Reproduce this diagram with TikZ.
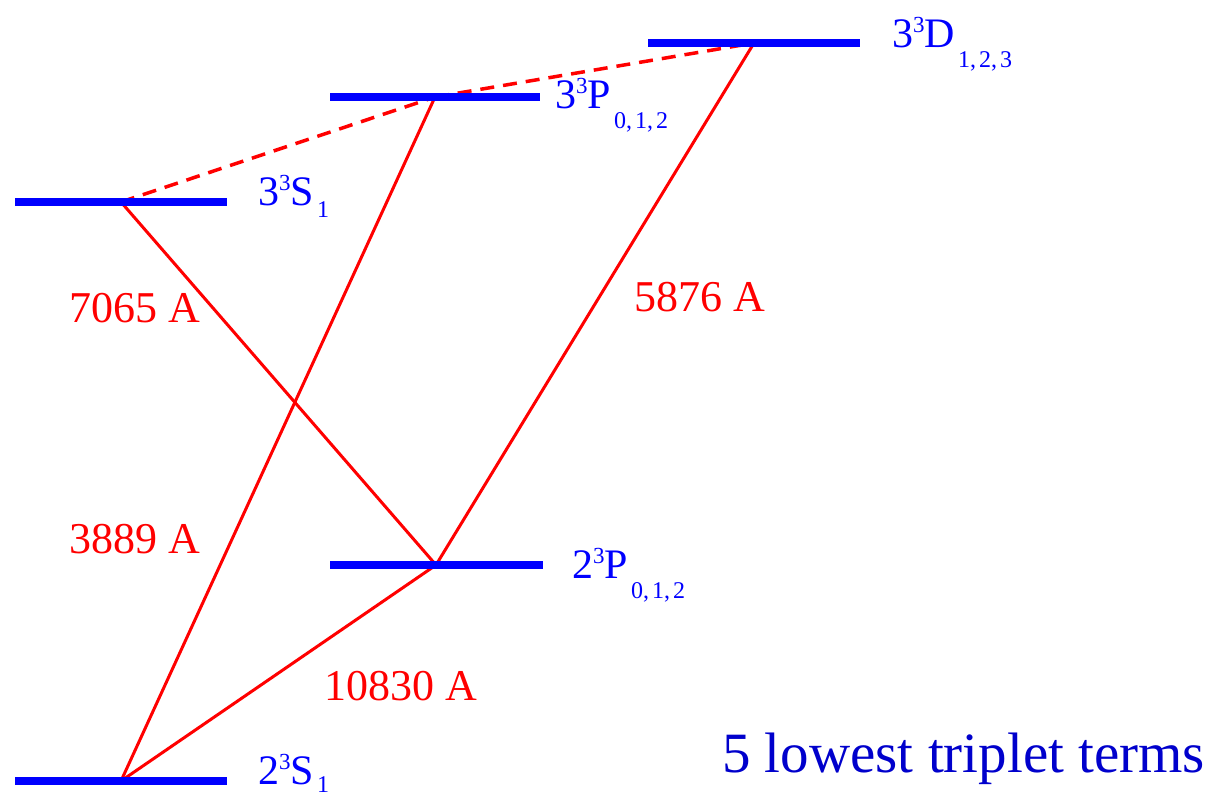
\documentclass[tikz,border=0pt]{standalone}
\usepackage{fontspec}
\setmainfont{Liberation Serif}
\usetikzlibrary{backgrounds}
\definecolor{lvlblue}{RGB}{0,0,255}
\definecolor{titleblue}{RGB}{0,0,204}
\definecolor{linered}{RGB}{255,0,0}
% #1 main, #2 sup, #3 letter, #4 sub, #5 lowering
\newcommand{\lvlab}[5]{\fontsize{42}{42}\selectfont #1\raisebox{15pt}{\fontsize{23}{23}\selectfont #2}#3\hspace{3pt}\raisebox{-#5}{\fontsize{24}{24}\selectfont #4}}
\begin{document}
\begin{tikzpicture}[x=1pt,y=-1pt,
  levelbar/.style={rectangle, draw=none, fill=lvlblue, minimum height=8pt, inner sep=0pt, minimum width=212pt},
  trans/.style={draw=linered, line width=3pt},
  forbid/.style={draw=linered, line width=3.5pt, dash pattern=on 14pt off 9pt},
  lab/.style={text=lvlblue, anchor=base west, inner sep=0pt},
  wl/.style={text=linered, font=\fontsize{44}{44}\selectfont, inner sep=0pt},
  ttl/.style={text=titleblue, font=\fontsize{57}{57}\selectfont, anchor=base west, inner sep=0pt}]
\useasboundingbox (0,0) rectangle (1221,795);

% levels
\node[levelbar] (S2) at (121,781) {};
\node[levelbar] (S3) at (121,202) {};
\node[levelbar, minimum width=213pt] (P2) at (436,565) {};
\node[levelbar, minimum width=210pt] (P3) at (435,97) {};
\node[levelbar] (D3) at (754,43) {};

% transitions
\begin{scope}[on background layer]
\draw[trans] (S2.center) -- (P2.center);
\draw[trans] (S2.center) -- (P3.center);
\draw[trans] (S3.center) -- (P2.center);
\draw[trans] (P2.center) -- (D3.center);
\draw[forbid] (S3.center) -- (P3.center);
\draw[forbid] (P3.center) -- (D3.center);
\end{scope}

% level labels
\node[lab] (lS3) at (258,205) {\lvlab{3}{3}{S}{1}{12pt}};
\node[lab] (lP3) at (555,108) {\lvlab{3}{3}{P}{0,\hspace{3pt}1,\hspace{3pt}2}{20pt}};
\node[lab] (lD3) at (892,47) {\lvlab{3}{3}{D}{1,\hspace{3pt}2,\hspace{3pt}3}{20pt}};
\node[lab] (lP2) at (572,578) {\lvlab{2}{3}{P}{0,\hspace{3pt}1,\hspace{3pt}2}{20pt}};
\node[lab] (lS2) at (258,784) {\lvlab{2}{3}{S}{1}{8pt}};

% wavelength labels
\node[wl] (w1) at (135,308) {7065 A};
\node[wl] (w2) at (135,539) {3889 A};
\node[wl] (w3) at (700,297) {5876 A};
\node[wl] (w4) at (401,686) {10830 A};

% title
\node[ttl] (title) at (722,772) {5 lowest triplet terms};
\end{tikzpicture}
\end{document}
